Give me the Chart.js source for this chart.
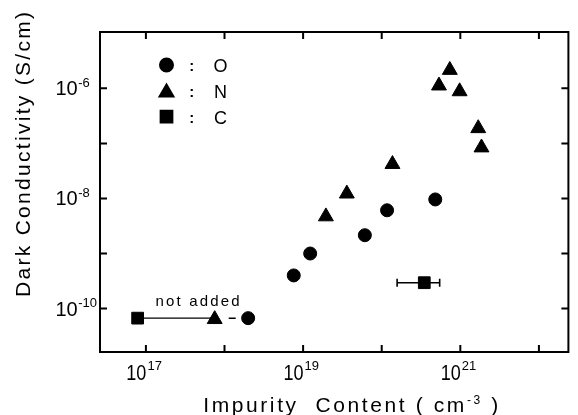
<!DOCTYPE html>
<html>
<head>
<meta charset="utf-8">
<script src="https://cdn.jsdelivr.net/npm/chart.js@4.4.1/dist/chart.umd.min.js"></script>
<style>
  html, body { margin: 0; padding: 0; background: #fff; }
</style>
</head>
<body>
<canvas id="chartImpurity" width="578" height="415"></canvas>
<script>
// -----------------------------------------------
// data (x: cm^-3, y: S/cm)
// -----------------------------------------------
const oxygenX   = [2.0e18, 7.6e18, 1.23e19, 6.1e19, 1.17e20, 4.8e20];
const oxygenY   = [6.7e-11, 4.0e-10, 1.0e-9, 2.15e-9, 6.1e-9, 9.6e-9];

const nitrogenX = [7.5e17, 1.95e19, 3.6e19, 1.37e20, 5.35e20, 7.35e20, 9.8e20, 1.69e21, 1.86e21];
const nitrogenY = [6.4e-11, 4.7e-9, 1.22e-8, 4.2e-8, 1.12e-6, 2.15e-6, 8.8e-7, 1.88e-7, 8.4e-8];

const carbonX   = [7.85e16, 3.48e20];
const carbonY   = [6.7e-11, 2.95e-10];
const carbonErrX = [1.57e20, 5.46e20];   // error bar of the C point

// "not added" connectors: square -> triangle (solid), triangle -> circle (dash)
const notAddedSolidX = [7.85e16, 7.5e17];
const notAddedDashX  = [7.5e17, 2.0e18];
const notAddedY      = 6.7e-11;

// axis ranges (log10) and labelled decades
const xLogMin = 16.416, xLogMax = 22.375;
const yLogMin = -10.789, yLogMax = -4.976;
const xTickDecades = [17, 18, 19, 20, 21, 22];
const yTickDecades = [-10, -9, -8, -7, -6, -5];
const xLabelExps = ["17", "19", "21"];
const yLabelExps = ["-6", "-8", "-10"];

const legendItems = [
  { style: "circle",   label: "O" },
  { style: "triangle", label: "N" },
  { style: "rect",     label: "C" }
];

const FONT = '"Liberation Sans", Arial, Helvetica, sans-serif';

const pts = (xs, ys) => xs.map((x, i) => ({ x, y: Array.isArray(ys) ? ys[i] : ys }));

// draw text runs char by char, spread to a target width
function drawRuns(ctx, runs, cx, baseY, targetW) {
  const chars = [];
  runs.forEach(r => { for (const ch of r.text) chars.push({ ch, size: r.size, dy: r.dy || 0 }); });
  let w0 = 0;
  chars.forEach(c => {
    ctx.font = c.size + "px " + FONT;
    c.w = ctx.measureText(c.ch).width;
    w0 += c.w;
  });
  const sp = targetW ? (targetW - w0) / (chars.length - 1) : 0;
  let x = cx - (targetW || w0) / 2;
  ctx.textAlign = "left";
  ctx.textBaseline = "alphabetic";
  chars.forEach(c => {
    ctx.font = c.size + "px " + FONT;
    ctx.fillText(c.ch, x, baseY + c.dy);
    x += c.w + sp;
  });
}

function marker(ctx, style, r, x, y) {
  Chart.helpers.drawPoint(ctx, { pointStyle: style, radius: r, rotation: 0, borderWidth: 1 }, x, y);
}

// -----------------------------------------------
// frame, inward ticks, labels, legend, titles
// -----------------------------------------------
const decorPlugin = {
  id: "decor",
  afterDraw(chart) {
    const { ctx, chartArea: a, scales } = chart;
    const xs = scales.x, ys = scales.y;
    ctx.save();
    ctx.strokeStyle = "#000";
    ctx.fillStyle = "#000";

    // frame
    ctx.lineWidth = 2;
    ctx.strokeRect(a.left, a.top, a.right - a.left, a.bottom - a.top);

    // ticks pointing inward on all sides
    const tl = 7;
    ctx.lineWidth = 2;
    ctx.beginPath();
    xTickDecades.forEach(k => {
      const px = xs.getPixelForValue(Math.pow(10, k));
      ctx.moveTo(px, a.bottom); ctx.lineTo(px, a.bottom - tl);
      ctx.moveTo(px, a.top);    ctx.lineTo(px, a.top + tl);
    });
    yTickDecades.forEach(k => {
      if (k > yLogMax - 0.05) return;
      const py = ys.getPixelForValue(Math.pow(10, k));
      ctx.moveTo(a.left, py);  ctx.lineTo(a.left + tl, py);
      ctx.moveTo(a.right, py); ctx.lineTo(a.right - tl, py);
    });
    ctx.stroke();

    // y tick labels 10^n
    ctx.textBaseline = "alphabetic";
    yLabelExps.forEach(e => {
      const py = ys.getPixelForValue(Math.pow(10, Number(e)));
      ctx.textAlign = "left";
      ctx.font = "20px " + FONT;
      ctx.fillText("10", 55.5, py + 7);
      const w = ctx.measureText("10").width;
      ctx.font = "13px " + FONT;
      ctx.fillText(e, 55.5 + w + 0.5, py - 1.6);
    });

    // x tick labels 10^n
    xLabelExps.forEach(e => {
      const px = xs.getPixelForValue(Math.pow(10, Number(e)));
      ctx.save();
      ctx.translate(px + 0.5, 380);
      ctx.scale(0.82, 1);
      ctx.textAlign = "right";
      ctx.font = "22px " + FONT;
      ctx.fillText("10", 0, 0);
      ctx.restore();
      ctx.textAlign = "left";
      ctx.font = "13px " + FONT;
      ctx.fillText(e, px + 1.5, 370);
    });

    // legend inside the plot
    const legY = [65, 92.5, 116.7];
    const legBase = [72, 98, 124];
    const legR = { circle: 6.5, triangle: 8, rect: 8.3 };
    legendItems.forEach((it, i) => {
      marker(ctx, it.style, legR[it.style], 166.5, legY[i]);
      ctx.textAlign = "center";
      ctx.font = "bold 15px " + FONT;
      ctx.fillText(":", 191.7, legBase[i] - 1);
      ctx.font = "18px " + FONT;
      ctx.fillText(it.label, 220.5, legBase[i]);
    });

    // "not added" note
    drawRuns(ctx, [{ text: "not added", size: 15 }], 197.5, 306, 84);

    // x axis title
    drawRuns(ctx, [
      { text: "Impurity  Content ( cm", size: 21 },
      { text: "-3", size: 12, dy: -8 },
      { text: " )", size: 21 }
    ], 350.7, 411.5, 295);

    // y axis title (rotated)
    ctx.save();
    ctx.translate(30, 154.5);
    ctx.rotate(-Math.PI / 2);
    drawRuns(ctx, [{ text: "Dark Conductivity (S/cm)", size: 21 }], 0, 0, 285);
    ctx.restore();

    ctx.restore();
  }
};

const black = "#000";

new Chart(document.getElementById("chartImpurity"), {
  type: "scatter",
  data: {
    datasets: [
      {
        data: pts(notAddedSolidX, notAddedY),
        showLine: true, pointRadius: 0,
        borderColor: black, borderWidth: 1.3
      },
      {
        data: pts(notAddedDashX, notAddedY),
        showLine: true, pointRadius: 0,
        borderColor: black, borderWidth: 1.5,
        borderDash: [0, 14, 7, 300]
      },
      {
        data: pts(carbonErrX, carbonY[1]),
        showLine: true,
        pointStyle: "line", rotation: 90, pointRadius: 4,
        pointBorderWidth: 1.6, pointBorderColor: black,
        borderColor: black, borderWidth: 1.5
      },
      {
        label: "O",
        data: pts(oxygenX, oxygenY),
        pointStyle: "circle", pointRadius: 6.5,
        backgroundColor: black, borderColor: black, borderWidth: 1
      },
      {
        label: "N",
        data: pts(nitrogenX, nitrogenY),
        pointStyle: "triangle", pointRadius: 8.6,
        backgroundColor: black, borderColor: black, borderWidth: 1
      },
      {
        label: "C",
        data: pts(carbonX, carbonY),
        pointStyle: "rect", pointRadius: 8.3,
        backgroundColor: black, borderColor: black, borderWidth: 1
      }
    ]
  },
  options: {
    responsive: false,
    animation: false,
    devicePixelRatio: 1,
    layout: { padding: { left: 0, top: 32, right: 1.5, bottom: 0 } },
    plugins: {
      legend: { display: false },
      tooltip: { enabled: false }
    },
    scales: {
      x: {
        type: "logarithmic",
        min: Math.pow(10, xLogMin),
        max: Math.pow(10, xLogMax),
        ticks: { display: false },
        grid: { display: false },
        border: { display: false },
        afterFit: s => { s.height = 63; }
      },
      y: {
        type: "logarithmic",
        min: Math.pow(10, yLogMin),
        max: Math.pow(10, yLogMax),
        ticks: { display: false },
        grid: { display: false },
        border: { display: false },
        afterFit: s => { s.width = 100; }
      }
    }
  },
  plugins: [decorPlugin]
});
</script>
</body>
</html>
